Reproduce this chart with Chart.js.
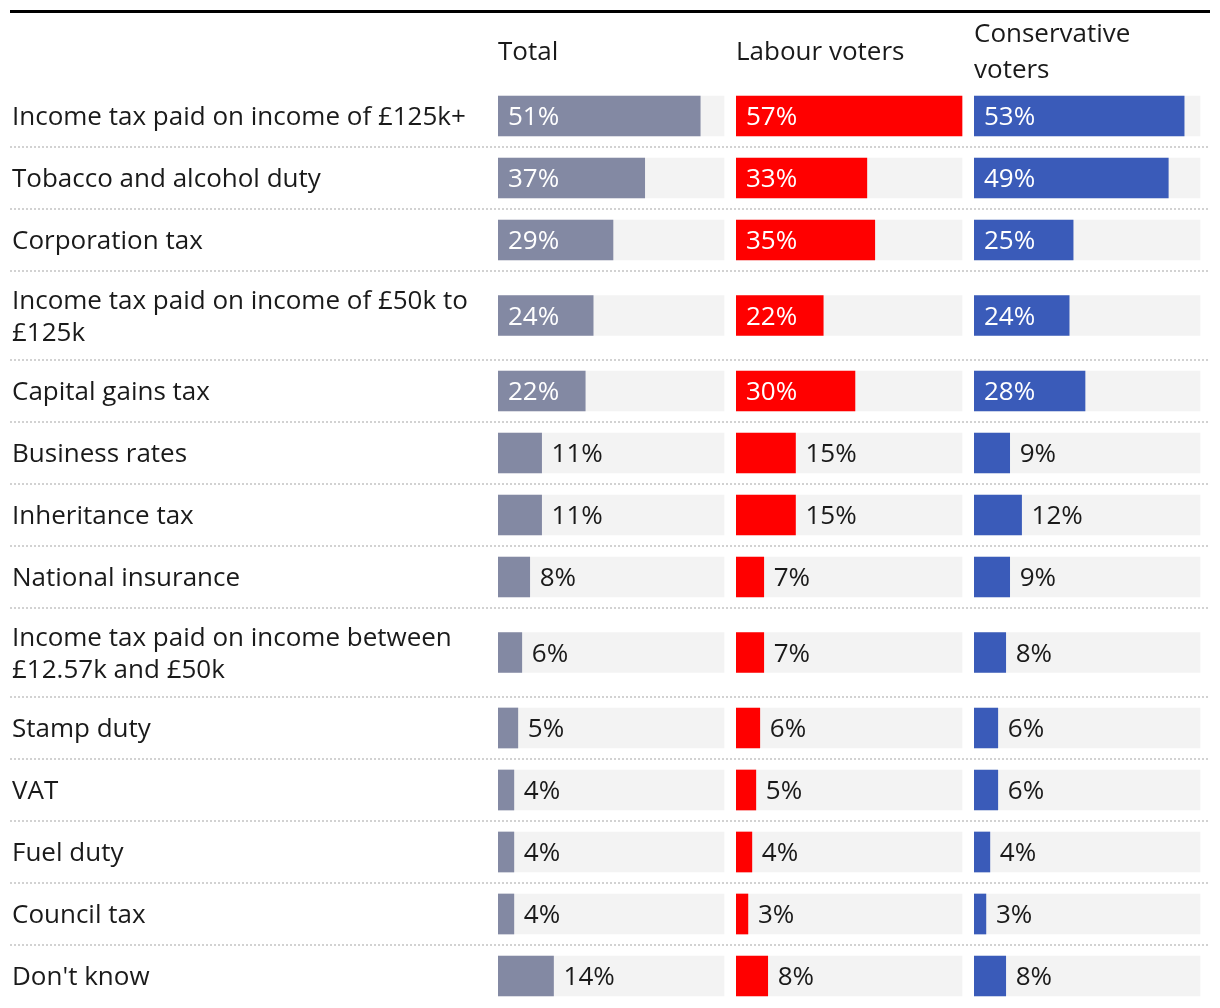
<!DOCTYPE html>
<html>
<head>
<meta charset="utf-8">
<script src="https://cdn.jsdelivr.net/npm/chart.js@4.4.1/dist/chart.umd.min.js"></script>
<style>
  html, body { margin: 0; padding: 0; background: #ffffff; }
  #wrap { width: 1220px; height: 1008px; position: relative; }
</style>
</head>
<body>
<div id="wrap"><canvas id="c" width="1220" height="1008"></canvas></div>
<script>
// ---- data ----
const categories = [
  ["Income tax paid on income of £125k+"],
  ["Tobacco and alcohol duty"],
  ["Corporation tax"],
  ["Income tax paid on income of £50k to", "£125k"],
  ["Capital gains tax"],
  ["Business rates"],
  ["Inheritance tax"],
  ["National insurance"],
  ["Income tax paid on income between", "£12.57k and £50k"],
  ["Stamp duty"],
  ["VAT"],
  ["Fuel duty"],
  ["Council tax"],
  ["Don't know"]
];
const totalValues        = [51, 37, 29, 24, 22, 11, 11, 8, 6, 5, 4, 4, 4, 14];
const labourValues       = [57, 33, 35, 22, 30, 15, 15, 7, 7, 6, 5, 4, 3, 8];
const conservativeValues = [53, 49, 25, 24, 28, 9, 12, 9, 8, 6, 6, 4, 3, 8];
const seriesNames = ["Total", "Labour voters", ["Conservative", "voters"]];

// ---- layout / style ----
const FONT = "'Open Sans', Roboto, sans-serif";
const FONT_SIZE = 26;
const colors = ["#8389a3", "#ff0000", "#3a5bb9"];
const trackColor = "#f3f3f3";
const singleRow = 62, doubleRow = 89;
const trackWidth = 226, colPitch = 238;
const textNudge = 2; // optical vertical centring of text

// row geometry in y-units (1 unit = 1 px of plot height)
const rowHeights = categories.map(c => c.length > 1 ? doubleRow : singleRow);
const rowStarts = [];
let acc = 0;
rowHeights.forEach(h => { rowStarts.push(acc); acc += h; });
const totalHeight = acc;
const rowCenters = rowStarts.map((s, i) => s + rowHeights[i] / 2);

const maxVal = Math.max(...totalValues, ...labourValues, ...conservativeValues);
const axisMax = maxVal * colPitch / trackWidth;

const series = [totalValues, labourValues, conservativeValues];
const axisIds = ["xT", "xL", "xC"];

const datasets = [];
series.forEach((vals, k) => {
  datasets.push({
    label: "v" + k,
    data: vals.map((v, i) => ({ x: v, y: rowCenters[i] })),
    xAxisID: axisIds[k],
    backgroundColor: colors[k],
    grouped: false,
    order: 0
  });
});
series.forEach((vals, k) => {
  datasets.push({
    label: "track" + k,
    data: vals.map((v, i) => ({ x: maxVal, y: rowCenters[i] })),
    xAxisID: axisIds[k],
    backgroundColor: trackColor,
    grouped: false,
    order: 1
  });
});

const titlePads = [33 + textNudge, 33 + textNudge, 15 + textNudge];
const scales = {
  y: {
    type: "linear",
    reverse: true,
    offset: false,
    min: 0,
    max: totalHeight,
    grid: { display: false, offset: false },
    border: { display: false },
    afterBuildTicks: (s) => { s.ticks = rowCenters.map(v => ({ value: v + textNudge })); },
    afterFit: (s) => { s.width = 486; s.paddingTop = 0; s.paddingBottom = 0; },
    ticks: {
      autoSkip: false,
      crossAlign: "far",
      padding: 0,
      color: "#1a1a1a",
      font: { family: FONT, size: FONT_SIZE, lineHeight: 32 / FONT_SIZE },
      callback: (v, i) => categories[i].length > 1 ? categories[i] : categories[i][0]
    }
  }
};
axisIds.forEach((id, k) => {
  scales[id] = {
    type: "linear",
    position: "top",
    stack: "cols",
    weight: axisIds.length - k,
    min: 0,
    max: axisMax,
    grid: { display: false },
    border: { display: false },
    ticks: { display: false },
    afterFit: (s) => { s.height = 85; s.paddingLeft = 0; s.paddingRight = 0; },
    title: {
      display: true,
      text: seriesNames[k],
      align: "start",
      color: "#1a1a1a",
      font: { family: FONT, size: FONT_SIZE, lineHeight: 36 / FONT_SIZE },
      padding: { top: titlePads[k], bottom: 0 }
    }
  };
});

const decorPlugin = {
  id: "decor",
  beforeDraw(chart) {
    const ctx = chart.ctx;
    ctx.save();
    ctx.fillStyle = "#000";
    ctx.fillRect(10, 10, 1200, 3);
    // dotted separators between rows
    const y = chart.scales.y;
    ctx.strokeStyle = "#d2d2d2";
    ctx.lineWidth = 2;
    ctx.setLineDash([2, 2]);
    for (let i = 1; i < rowStarts.length; i++) {
      const py = Math.round(y.getPixelForValue(rowStarts[i]));
      ctx.beginPath();
      ctx.moveTo(10, py);
      ctx.lineTo(1210, py);
      ctx.stroke();
    }
    ctx.restore();
  },
  afterDatasetsDraw(chart) {
    const ctx = chart.ctx;
    ctx.save();
    ctx.font = FONT_SIZE + "px " + FONT;
    ctx.textBaseline = "middle";
    ctx.textAlign = "left";
    series.forEach((vals, k) => {
      const meta = chart.getDatasetMeta(k);
      meta.data.forEach((el, i) => {
        const v = vals[i];
        const txt = v + "%";
        if (v >= 20) {
          ctx.fillStyle = "#ffffff";
          ctx.fillText(txt, el.base + 10, el.y + textNudge);
        } else {
          ctx.fillStyle = "#1a1a1a";
          ctx.fillText(txt, el.x + 10, el.y + textNudge);
        }
      });
    });
    ctx.restore();
  }
};

new Chart(document.getElementById("c"), {
  type: "bar",
  data: { datasets },
  options: {
    indexAxis: "y",
    responsive: false,
    animation: false,
    devicePixelRatio: 1,
    barPercentage: 1,
    categoryPercentage: 1,
    maxBarThickness: 40,
    layout: { padding: { left: 12, right: 8, top: 0, bottom: 1 } },
    plugins: { legend: { display: false }, tooltip: { enabled: false } },
    elements: { bar: { borderWidth: 0 } },
    scales
  },
  plugins: [decorPlugin]
});
</script>
</body>
</html>
